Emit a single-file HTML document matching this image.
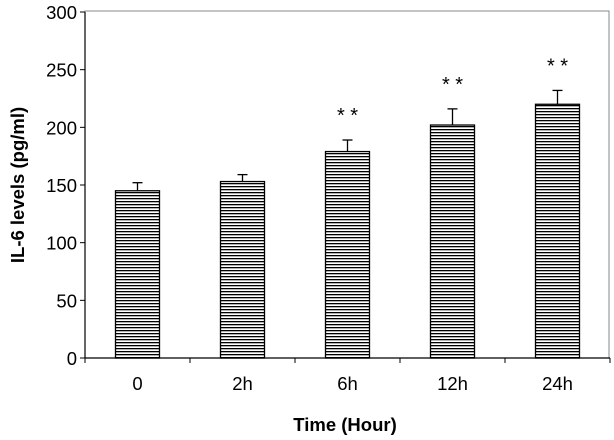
<!DOCTYPE html>
<html><head><meta charset="utf-8"><style>
body{margin:0;background:#fff}
svg text{font-family:"Liberation Sans",Arial,sans-serif}
</style></head><body>
<svg id="chart" width="614" height="435" xmlns="http://www.w3.org/2000/svg">
<defs><pattern id="hatch" width="4" height="3" patternUnits="userSpaceOnUse"><rect width="4" height="3" fill="#fff"/><rect width="4" height="1.3" fill="#000"/></pattern></defs>
<rect x="85" y="11" width="524" height="347" fill="none" stroke="#888" stroke-width="1"/>
<g id="g"></g>
<text x="345" y="431" font-size="18.5" font-weight="bold" text-anchor="middle">Time (Hour)</text>
<text transform="translate(24,185) rotate(-90)" font-size="18.5" font-weight="bold" text-anchor="middle">IL-6 levels (pg/ml)</text>
</svg>
<script>
const categories=["0","2h","6h","12h","24h"];
const values=[145,153,179,202,220];
const errors=[7,6,10,14,12];
const significant=[false,false,true,true,true];
const yTicks=[0,50,100,150,200,250,300];
const NS="http://www.w3.org/2000/svg";
const g=document.getElementById('g');
const x0=85,x1=610,yb=358,yt=12;
const y=v=>yb-(v/300)*(yb-yt);
const bw=(x1-x0)/categories.length;
const xc=i=>x0+bw*(i+0.5);
function mk(t,a){const e=document.createElementNS(NS,t);for(const k in a)e.setAttribute(k,a[k]);g.appendChild(e);return e;}
let e=mk('line',{x1:x0,y1:yt,x2:x0,y2:yb,stroke:'#000','stroke-width':1.2});


e=mk('line',{x1:x0,y1:yb,x2:x1,y2:yb,stroke:'#000','stroke-width':1.2});


yTicks.forEach(v=>{
 let t=mk('line',{x1:x0-5,y1:y(v),x2:x0,y2:y(v),stroke:'#000'});
 
 
 let l=mk('text',{x:x0-8,y:y(v)+7,'font-size':18.5,'text-anchor':'end'});l.textContent=v;
 
 
});
for(let i=0;i<=categories.length;i++){
 let t=mk('line',{x1:x0+bw*i,y1:yb,x2:x0+bw*i,y2:yb+5,stroke:'#000'});
 
 
}
categories.forEach((c,i)=>{
 const cx=xc(i),w=44;
 let el=mk('line',{x1:cx,y1:y(values[i]),x2:cx,y2:y(values[i]+errors[i]),stroke:'#000','stroke-width':1.3});
 
 
 el=mk('line',{x1:cx-5,y1:y(values[i]+errors[i]),x2:cx+5,y2:y(values[i]+errors[i]),stroke:'#000','stroke-width':1.3});
 
 
 el=mk('rect',{x:cx-w/2,y:y(values[i]),width:w,height:yb-y(values[i]),fill:'url(#hatch)',stroke:'#000','stroke-width':1.3});
 
 
 el=mk('text',{x:cx,y:390,'font-size':18.5,'text-anchor':'middle'});el.textContent=c;
 
 
 if(significant[i]){
  el=mk('text',{x:cx,y:y(values[i]+errors[i])-18,'font-size':20,'text-anchor':'middle'});el.textContent='*  *';
  
  
 }
});
</script>
</body></html>
